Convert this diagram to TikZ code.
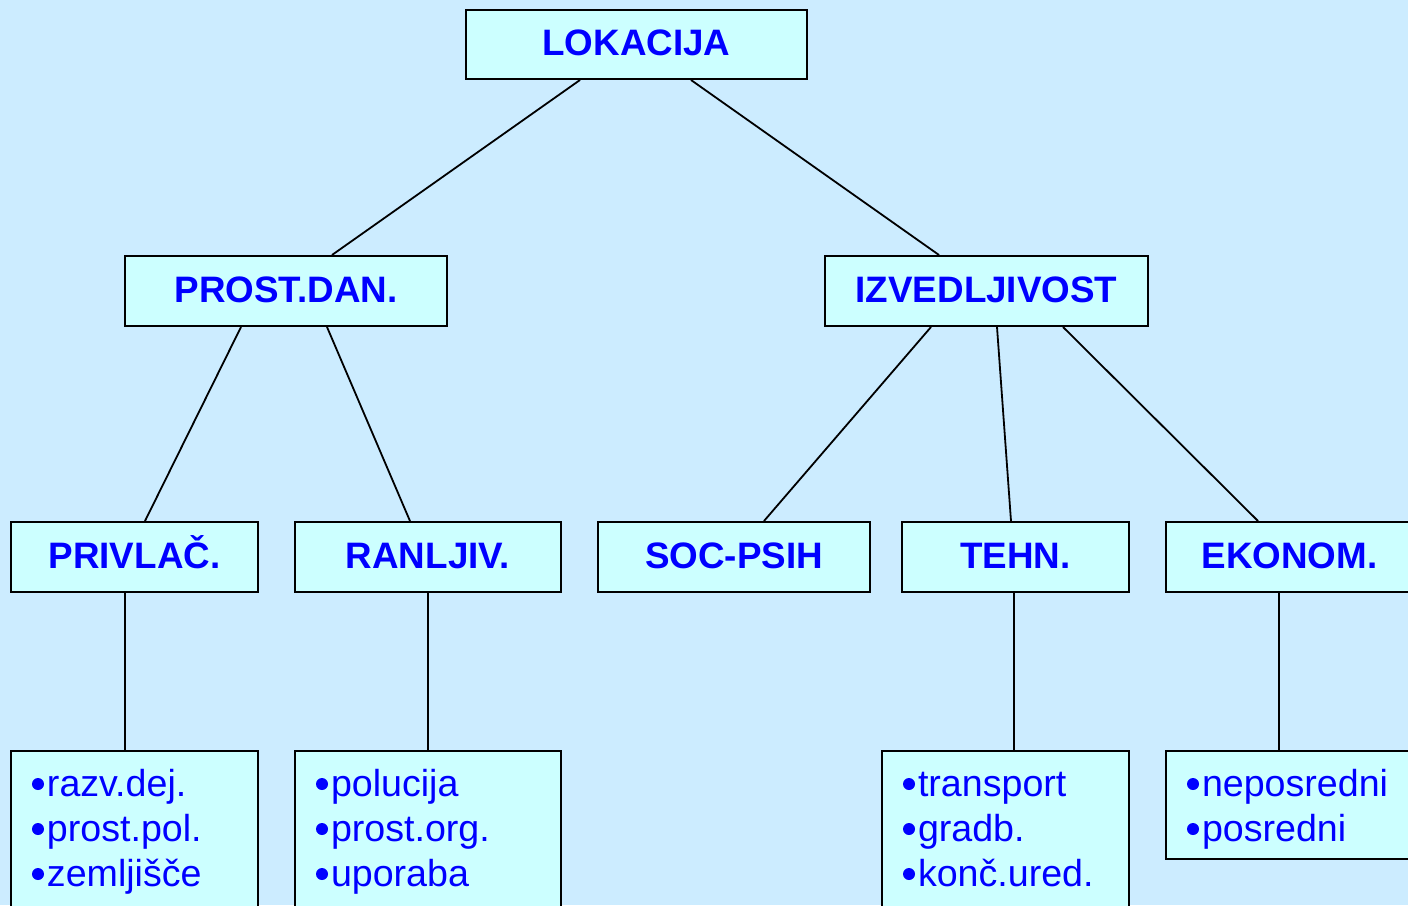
\documentclass[tikz,border=0pt]{standalone}
\usepackage{fontspec}
\setmainfont{Liberation Sans}
\usetikzlibrary{calc}
\definecolor{bgblue}{HTML}{CCECFF}
\definecolor{boxcyan}{HTML}{CCFFFF}
\definecolor{txtblue}{HTML}{0000FF}
% round bullet used in the lists
\newcommand\itemdot{\tikz[baseline=0pt]\fill[txtblue] (0,6pt) circle (3pt);\hspace{1.5pt}}
\newcommand\firstline{\rule{0pt}{22.5pt}}
\newcommand\lastline[1]{\rule[-#1]{0pt}{#1}}
\tikzset{
  head/.style={draw=black, line width=1pt, fill=boxcyan, text=txtblue,
    font=\fontsize{18.4}{22}\selectfont\bfseries, inner sep=0pt,
    text height=13.2pt, text depth=2pt, minimum height=35pt},
  list/.style={draw=black, line width=1pt, fill=boxcyan, text=txtblue,
    font=\fontsize{18.8}{22.5}\selectfont, inner xsep=10.5pt, inner ysep=0pt,
    align=left, anchor=north},
  link/.style={draw=black, line width=0.9pt}
}
\begin{document}
\begin{tikzpicture}[x=0.5pt, y=-0.5pt]
  \fill[bgblue] (0,0) rectangle (1408,905);
  \useasboundingbox (0,0) rectangle (1408,905);
  \clip (0,0) rectangle (1408,905);

  % headings
  \node[head, minimum width=170.5pt, minimum height=34.5pt] (lok) at (636.5,44.5) {LOKACIJA};
  \node[head, minimum width=161pt] (pd)  at (286,291)    {PROST.DAN.};
  \node[head, minimum width=161.5pt] (izv) at (986.5,291) {IZVEDLJIVOST};
  \node[head, minimum width=123.5pt] (priv) at (134.5,557) {PRIVLAČ.};
  \node[head, minimum width=133pt]   (ran)  at (428,557)   {RANLJIV.};
  \node[head, minimum width=136pt]   (soc)  at (734,557)   {SOC-PSIH};
  \node[head, minimum width=113.5pt] (teh)  at (1015.5,557) {TEHN.};
  \node[head, minimum width=123.5pt] (eko)  at (1289.5,557) {EKONOM.};

  % lists
  \node[list, text width=102.5pt] (b1) at (134.5,750)
    {\firstline\itemdot razv.dej.\\\itemdot prost.pol.\\\itemdot zemljišče\lastline{17.5pt}};
  \node[list, text width=112pt] (b2) at (428,750)
    {\firstline\itemdot polucija\\\itemdot prost.org.\\\itemdot uporaba\lastline{17.5pt}};
  \node[list, text width=102.5pt] (b3) at (1005.5,750)
    {\firstline\itemdot transport\\\itemdot gradb.\\\itemdot konč.ured.\lastline{17.5pt}};
  \node[list, text width=102.5pt] (b4) at (1289.5,750)
    {\firstline\itemdot neposredni\\\itemdot posredni\lastline{9pt}};

  % connectors
  \draw[link] ($(lok.south west)+(115,0)$) -- ($(pd.north west)+(208,0)$);
  \draw[link] ($(lok.south west)+(226,0)$) -- ($(izv.north west)+(115,0)$);
  \draw[link] ($(pd.south west)+(117,0)$) -- ($(priv.north west)+(135,0)$);
  \draw[link] ($(pd.south west)+(203,0)$) -- ($(ran.north west)+(116,0)$);
  \draw[link] ($(izv.south west)+(107,0)$) -- ($(soc.north west)+(167,0)$);
  \draw[link] ($(izv.south west)+(173,0)$) -- ($(teh.north west)+(110,0)$);
  \draw[link] ($(izv.south west)+(239,0)$) -- ($(eko.north west)+(93,0)$);
  \draw[link] ($(priv.south west)+(115,0)$) -- ($(b1.north west)+(115,0)$);
  \draw[link] (ran.south) -- (b2.north);
  \draw[link] ($(teh.south west)+(113,0)$) coordinate (t1) -- (t1 |- b3.north);
  \draw[link] ($(eko.south west)+(114,0)$) coordinate (e1) -- (e1 |- b4.north);
\end{tikzpicture}
\end{document}
